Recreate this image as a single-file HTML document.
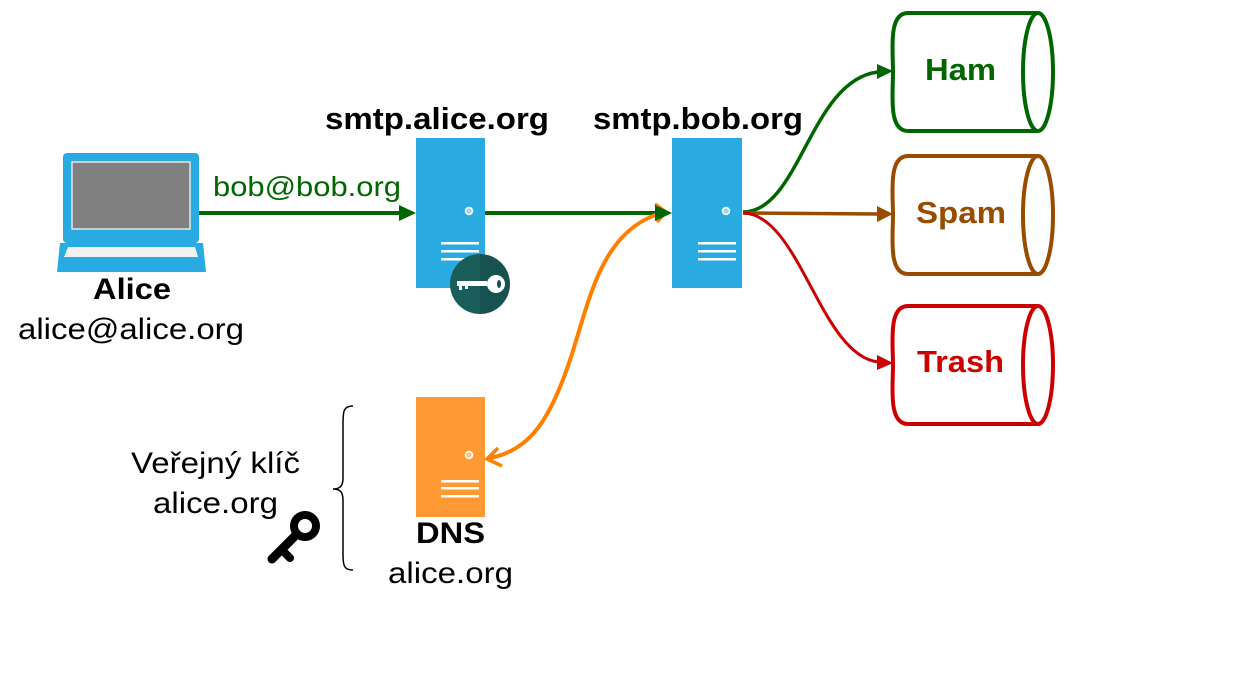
<!DOCTYPE html>
<html><head><meta charset="utf-8"><style>
html,body{margin:0;padding:0;background:#fff;}
svg{display:block;}
text{font-family:"Liberation Sans",sans-serif;}
</style></head><body>
<svg width="1254" height="693" viewBox="0 0 1254 693" xmlns="http://www.w3.org/2000/svg">
<!-- laptop -->
<rect x="63" y="153" width="136" height="90" rx="4" fill="#29abe2"/>
<rect x="72" y="162" width="118" height="67" fill="#808080" stroke="#e6e6e6" stroke-width="1.5"/>
<path d="M60,243 L203,243 L206,272 L57,272 Z" fill="#29abe2"/>
<path d="M68,247 L195,247 L198,257 L64,257 Z" fill="#f2f2f2"/>
<text x="93" y="299" font-size="30" font-weight="bold" textLength="78" lengthAdjust="spacingAndGlyphs">Alice</text>
<text x="18" y="339" font-size="30" textLength="226" lengthAdjust="spacingAndGlyphs">alice@alice.org</text>
<!-- green arrow 1 -->
<text x="213" y="196" font-size="28" fill="#006600" textLength="188" lengthAdjust="spacingAndGlyphs">bob@bob.org</text>
<line x1="199" y1="213" x2="400" y2="213" stroke="#006600" stroke-width="4"/>
<path d="M399,205 L416,213 L399,221 Z" fill="#006600"/>
<!-- alice server -->
<text x="325" y="129" font-size="31" font-weight="bold" textLength="224" lengthAdjust="spacingAndGlyphs">smtp.alice.org</text>
<rect x="416" y="138" width="69" height="150" fill="#29abe2"/>
<circle cx="469" cy="211" r="3.5" fill="#9fd7f3" stroke="#fff" stroke-width="1.5"/>
<rect x="441" y="242" width="38" height="2.5" fill="#fff"/>
<rect x="441" y="250" width="38" height="2.5" fill="#fff"/>
<rect x="441" y="258" width="38" height="2.5" fill="#fff"/>
<path d="M480,254 A30,30 0 0 0 480,314 Z" fill="#1a5e5b"/>
<path d="M480,254 A30,30 0 0 1 480,314 Z" fill="#175150"/>
<g fill="#fff">
<rect x="457" y="281" width="30" height="5"/>
<rect x="459" y="285" width="3" height="5"/>
<rect x="465" y="285" width="3" height="4"/>
<circle cx="496" cy="284" r="9"/>
</g>
<ellipse cx="499" cy="284" rx="2" ry="4" fill="#175150"/>
<!-- line to bob -->
<line x1="485" y1="213" x2="656" y2="213" stroke="#006600" stroke-width="4"/>
<!-- orange bidir -->
<path d="M664,212 C600,230 590,300 570,360 C550,420 530,450 490,458" fill="none" stroke="#ff8000" stroke-width="4"/>
<path d="M655,204 L666,212 L657,222" fill="none" stroke="#ff8000" stroke-width="3.5"/>
<path d="M498,448 L487,459 L502,466" fill="none" stroke="#ff8000" stroke-width="3.5"/>
<path d="M655,205 L672,213 L655,221 Z" fill="#006600"/>
<!-- bob server -->
<text x="593" y="129" font-size="31" font-weight="bold" textLength="210" lengthAdjust="spacingAndGlyphs">smtp.bob.org</text>
<rect x="672" y="138" width="70" height="150" fill="#29abe2"/>
<circle cx="726" cy="211" r="3.5" fill="#9fd7f3" stroke="#fff" stroke-width="1.5"/>
<rect x="698" y="242" width="38" height="2.5" fill="#fff"/>
<rect x="698" y="250" width="38" height="2.5" fill="#fff"/>
<rect x="698" y="258" width="38" height="2.5" fill="#fff"/>
<!-- outputs -->
<path d="M743,212 C800,212 810,80 878,72" fill="none" stroke="#006600" stroke-width="3.5"/>
<path d="M877,64 L893,71 L877,79 Z" fill="#006600"/>
<path d="M743,213 L878,214" fill="none" stroke="#994c00" stroke-width="3.5"/>
<path d="M877,206 L893,214 L877,222 Z" fill="#994c00"/>
<path d="M743,213 C800,214 820,355 878,362" fill="none" stroke="#cc0000" stroke-width="3"/>
<path d="M877,355 L893,363 L877,370 Z" fill="#cc0000"/>
<!-- cylinders -->
<g fill="none" stroke-width="4">
<path d="M1038,13 L908,13 C888,13 893,50 893,72 C893,94 888,131 908,131 L1038,131" stroke="#006600"/>
<ellipse cx="1038" cy="72" rx="15" ry="59" stroke="#006600"/>
<path d="M1038,156 L908,156 C888,156 893,193 893,215 C893,237 888,274 908,274 L1038,274" stroke="#994c00"/>
<ellipse cx="1038" cy="215" rx="15" ry="59" stroke="#994c00"/>
<path d="M1038,306 L908,306 C888,306 893,343 893,365 C893,387 888,424 908,424 L1038,424" stroke="#cc0000"/>
<ellipse cx="1038" cy="365" rx="15" ry="59" stroke="#cc0000"/>
</g>
<text x="925" y="80" font-size="31" font-weight="bold" fill="#006600" textLength="71" lengthAdjust="spacingAndGlyphs">Ham</text>
<text x="916" y="223" font-size="31" font-weight="bold" fill="#994c00" textLength="90" lengthAdjust="spacingAndGlyphs">Spam</text>
<text x="917" y="372" font-size="31" font-weight="bold" fill="#cc0000" textLength="87" lengthAdjust="spacingAndGlyphs">Trash</text>
<!-- DNS -->
<rect x="416" y="397" width="69" height="120" fill="#ff9933"/>
<circle cx="469" cy="455" r="3.5" fill="#ffc58a" stroke="#fff" stroke-width="1.5"/>
<rect x="441" y="480" width="38" height="2.5" fill="#fff"/>
<rect x="441" y="487" width="38" height="2.5" fill="#fff"/>
<rect x="441" y="495" width="38" height="2.5" fill="#fff"/>
<text x="416" y="543" font-size="30" font-weight="bold" textLength="69" lengthAdjust="spacingAndGlyphs">DNS</text>
<text x="388" y="583" font-size="30" textLength="125" lengthAdjust="spacingAndGlyphs">alice.org</text>
<!-- brace -->
<path d="M353,406 C343,406 343,412 343,425 L343,478 C343,486 340,489 333,489 C340,489 343,492 343,500 L343,555 C343,567 345,570 353,570" fill="none" stroke="#000" stroke-width="1.5"/>
<text x="131" y="473" font-size="30" textLength="169" lengthAdjust="spacingAndGlyphs">Veřejný klíč</text>
<text x="153" y="513" font-size="30" textLength="125" lengthAdjust="spacingAndGlyphs">alice.org</text>
<!-- black key -->
<circle cx="305" cy="526" r="11" fill="none" stroke="#000" stroke-width="8"/>
<path d="M297,534 L272,559" stroke="#000" stroke-width="9" stroke-linecap="round"/>
<path d="M282,550 L290,558" stroke="#000" stroke-width="8" stroke-linecap="round"/>
</svg>
</body></html>
